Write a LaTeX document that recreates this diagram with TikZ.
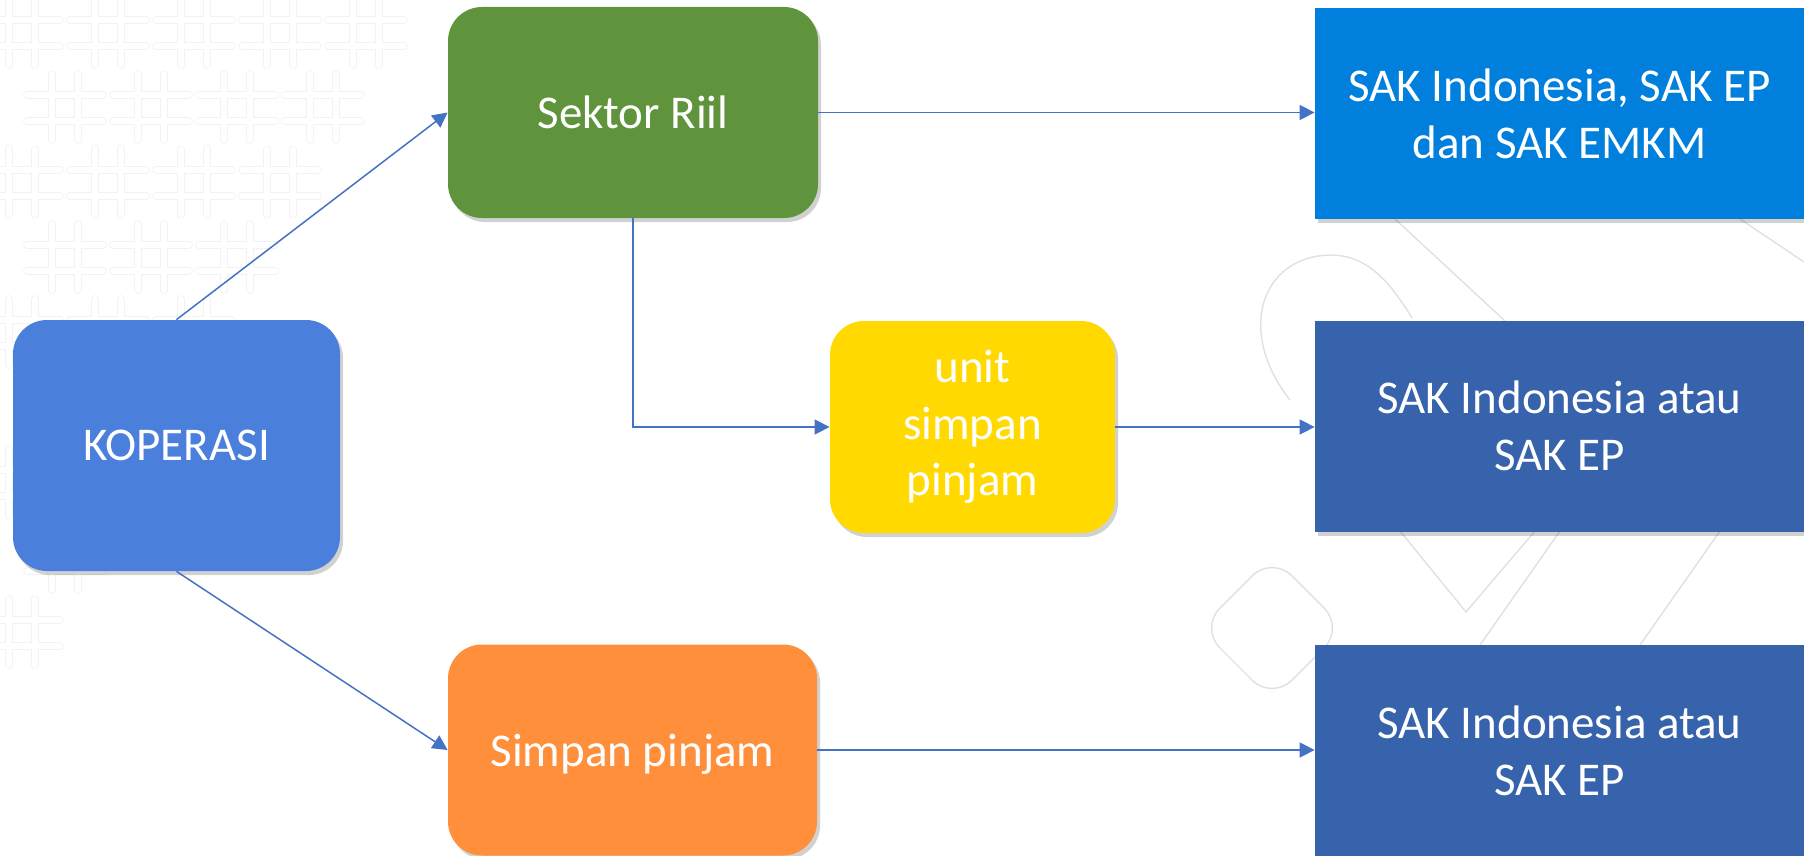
\documentclass[tikz,border=0pt]{standalone}
\usepackage{fontspec}
\setmainfont{Carlito}
\usetikzlibrary{arrows.meta,shadows,calc}
\definecolor{kopblue}{HTML}{4A7FDC}
\definecolor{sekgreen}{HTML}{5F943C}
\definecolor{unityellow}{HTML}{FFD900}
\definecolor{simorange}{HTML}{FF8F3A}
\definecolor{sakblue}{HTML}{0080DC}
\definecolor{sakdark}{HTML}{3762AC}
\definecolor{arrowblue}{HTML}{4472C4}
\tikzset{
  boxfont/.style={font=\fontsize{23.5}{28.4}\selectfont},
  shad/.style={drop shadow={shadow xshift=1.5pt,shadow yshift=-2pt,opacity=0.18,fill=black}},
  rbox/.style={rectangle, rounded corners=17pt, text=white, boxfont, align=center, inner sep=0pt, shad},
  sbox/.style={rectangle, text=white, boxfont, align=center, inner sep=0pt,
    minimum width=244.5pt, minimum height=105.5pt, shad},
  conn/.style={draw=arrowblue, line width=0.75pt, -{Triangle[length=7.5pt,width=7.5pt]}},
  deco/.style={draw=black!12, line width=0.7pt},
  pat/.style={draw=black!5, double=white, double distance=3pt, line width=0.4pt, line cap=round}
}
\begin{document}
\begin{tikzpicture}[x=0.5pt,y=-0.5pt]
\useasboundingbox (0,0) rectangle (1804,856);
% faint background pattern (top left)
\foreach \r in {0,...,10}{
  \foreach \c in {0,...,5}{
    \pgfmathsetmacro\xx{\c*86+22+mod(\r,2)*43}
    \pgfmathsetmacro\yy{\r*75+32}
    \pgfmathtruncatemacro\ok{(\xx < 440-0.55*\yy) ? 1 : 0}
    \ifnum\ok=1
      \draw[pat, shift={(\xx,\yy)}] (-13,-33) -- (-13,33) (13,-33) -- (13,33)
        (-38,-12) -- (38,-12) (-38,14) -- (38,14);
    \fi
  }
}
% faint background outlines (right)
\draw[deco] (1290,400) .. controls (1235,330) and (1262,255) .. (1332,255) .. controls (1368,256) and (1390,282) .. (1412,318);
\draw[deco] (1400,531) -- (1466,612) -- (1535,531);
\draw[deco] (1480,645) -- (1560,531);
\draw[deco] (1640,645) -- (1720,531);
\draw[deco] (1395,219) -- (1505,321);
\draw[deco] (1740,219) -- (1804,262);
\draw[deco, rounded corners=14pt] (1272,556) -- (1344,628) -- (1272,700) -- (1200,628) -- cycle;
% nodes
\node[rbox, fill=kopblue, minimum width=163.5pt, minimum height=125.5pt] (kop) at (176.5,445.5) {KOPERASI};
\node[rbox, fill=sekgreen, minimum width=185pt, minimum height=105.5pt] (sek) at (633,112.5) {Sektor Riil};
\node[rbox, fill=unityellow, minimum width=142.5pt, minimum height=106pt] (unit) at (972.5,427) {unit\\simpan\\pinjam};
\node[rbox, fill=simorange, minimum width=184.5pt, minimum height=105.5pt, text depth=0pt] (sim) at (632.5,750) {Simpan pinjam};
\node[sbox, fill=sakblue] (sak1) at (1559.5,113.5) {SAK Indonesia, SAK EP\\dan SAK EMKM};
\node[sbox, fill=sakdark] (sak2) at (1559.5,426) {SAK Indonesia atau\\SAK EP};
\node[sbox, fill=sakdark] (sak3) at (1559.5,750.5) {SAK Indonesia atau\\SAK EP};
% connectors
\draw[conn] (kop.north) -- (sek.west);
\draw[conn] (kop.south) -- (sim.west);
\draw[conn] (sek.east) -- (sek.east -| sak1.west);
\draw[conn] (sek.south) |- (unit.west);
\draw[conn] (unit.east) -- (unit.east -| sak2.west);
\draw[conn] (sim.east) -- (sim.east -| sak3.west);
\end{tikzpicture}
\end{document}
